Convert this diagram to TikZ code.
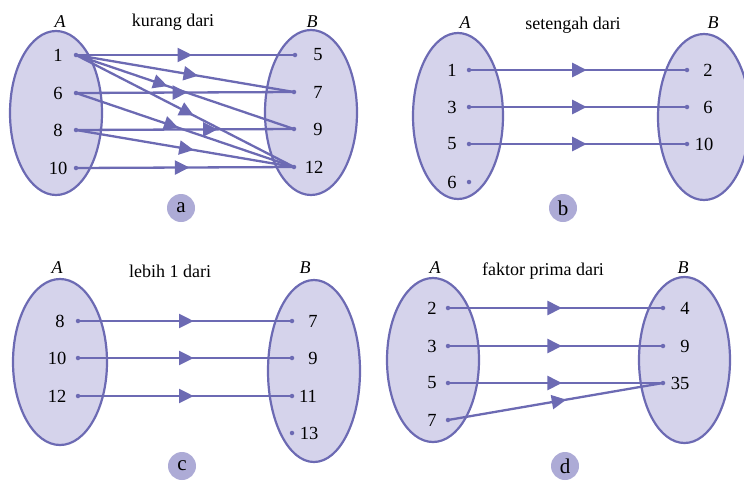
\documentclass[tikz,border=0pt]{standalone}
\usepackage{fontspec}
\setmainfont{Liberation Serif}
\usetikzlibrary{arrows.meta,decorations.markings}
\definecolor{lc}{HTML}{6C6AB3}
\definecolor{ef}{HTML}{D5D3EB}
\definecolor{cf}{HTML}{ADABD6}
\tikzset{
  setell/.style={draw=lc, line width=2.2pt, fill=ef},
  dotn/.style={circle, fill=lc, inner sep=0pt, minimum size=4.5pt},
  lbl/.style={inner sep=0pt, font=\fontsize{18.5}{20}\selectfont},
  ttl/.style={inner sep=0pt, font=\fontsize{18}{20}\selectfont},
  setname/.style={inner sep=0pt, font=\fontsize{18}{20}\selectfont\itshape},
  tag/.style={circle, fill=cf, minimum size=28pt, inner sep=0pt, font=\fontsize{21}{22}\selectfont},
  rel/.style={draw=lc, line width=2.3pt, postaction={decorate},
    decoration={markings, mark=at position #1 with {\arrow{Triangle[length=14.5pt,width=14pt]}}}},
  rel/.default=0.54
}
\begin{document}
\begin{tikzpicture}[x=1pt,y=-1pt]
\useasboundingbox (0,0) rectangle (744,480);
\clip (0,0) rectangle (744,480);
% ---------------- panel a
\draw[setell] (56,113) ellipse [x radius=46, y radius=82];
\draw[setell] (311,112.5) ellipse [x radius=46, y radius=82.5];
\node[setname] (aA) at (60,22) {A};
\node[setname] (aB) at (312,22) {B};
\node[ttl] (at) at (173,22) {kurang dari};
\node[tag] (ta) at (181,208) {a};
\node[dotn] (a1) at (76,55) {};
\node[dotn] (a6) at (76,93) {};
\node[dotn] (a8) at (76,130) {};
\node[dotn] (a10) at (76,168) {};
\node[dotn] (b5) at (295,55) {};
\node[dotn] (b7) at (294,92) {};
\node[dotn] (b9) at (294,129) {};
\node[dotn] (b12) at (294,167) {};
\node[lbl] at (58,55) {1};
\node[lbl] at (58,93) {6};
\node[lbl] at (58,130) {8};
\node[lbl] at (58,168) {10};
\node[lbl] at (318,55) {5};
\node[lbl] at (318,92) {7};
\node[lbl] at (318,129) {9};
\node[lbl] at (314,167) {12};
\draw[rel=0.53] (a1.center) -- (b5.center);
\draw[rel=0.56] (a1.center) -- (b7.center);
\draw[rel=0.42] (a1.center) -- (b9.center);
\draw[rel=0.54] (a1.center) -- (b12.center);
\draw[rel=0.51] (a6.center) -- (b7.center);
\draw[rel=0.47] (a6.center) -- (b12.center);
\draw[rel=0.65] (a8.center) -- (b9.center);
\draw[rel=0.54] (a8.center) -- (b12.center);
\draw[rel=0.52] (a10.center) -- (b12.center);
% ---------------- panel b
\draw[setell] (458,116) ellipse [x radius=45, y radius=83];
\draw[setell] (704,117) ellipse [x radius=46, y radius=83];
\node[setname] (bA) at (465,23) {A};
\node[setname] (bB) at (713,23) {B};
\node[ttl] (bt) at (573,25) {setengah dari};
\node[tag] (tb) at (563,208) {b};
\node[dotn] (c1) at (469,70) {};
\node[dotn] (c3) at (469,107) {};
\node[dotn] (c5) at (469,144) {};
\node[dotn] (c6) at (469,182) {};
\node[dotn] (d2) at (687,70) {};
\node[dotn] (d6) at (687,107) {};
\node[dotn] (d10) at (687,144) {};
\node[lbl] at (452,70) {1};
\node[lbl] at (452,107) {3};
\node[lbl] at (452,144) {5};
\node[lbl] at (452,182) {6};
\node[lbl] at (708,70) {2};
\node[lbl] at (708,107) {6};
\node[lbl] at (704,144) {10};
\draw[rel] (c1.center) -- (d2.center);
\draw[rel] (c3.center) -- (d6.center);
\draw[rel] (c5.center) -- (d10.center);
% ---------------- panel c
\draw[setell] (60,362) ellipse [x radius=47, y radius=83];
\draw[setell] (314,371) ellipse [x radius=46, y radius=91];
\node[setname] (cA) at (57,268) {A};
\node[setname] (cB) at (305,268) {B};
\node[ttl] (ct) at (170,271) {lebih 1 dari};
\node[tag] (tc) at (182,466) {c};
\node[dotn] (e8) at (78,321) {};
\node[dotn] (e10) at (78,358) {};
\node[dotn] (e12) at (78,396) {};
\node[dotn] (f7) at (292,321) {};
\node[dotn] (f9) at (292,358) {};
\node[dotn] (f11) at (292,396) {};
\node[dotn] (f13) at (292,433) {};
\node[lbl] at (60,321) {8};
\node[lbl] at (57,358) {10};
\node[lbl] at (57,396) {12};
\node[lbl] at (313,321) {7};
\node[lbl] at (313,358) {9};
\node[lbl] at (308,396) {11};
\node[lbl] at (309,433) {13};
\draw[rel] (e8.center) -- (f7.center);
\draw[rel] (e10.center) -- (f9.center);
\draw[rel] (e12.center) -- (f11.center);
% ---------------- panel d
\draw[setell] (433,360) ellipse [x radius=46, y radius=82];
\draw[setell] (684.5,360) ellipse [x radius=45.5, y radius=83];
\node[setname] (dA) at (435,268) {A};
\node[setname] (dB) at (683,268) {B};
\node[ttl] (dt) at (543,271) {faktor prima dari};
\node[tag] (td) at (565,466) {d};
\node[dotn] (g2) at (448,308) {};
\node[dotn] (g3) at (448,346) {};
\node[dotn] (g5) at (448,383) {};
\node[dotn] (g7) at (448,420) {};
\node[dotn] (h4) at (663,308) {};
\node[dotn] (h9) at (663,346) {};
\node[dotn] (h35) at (663,383) {};
\node[lbl] at (432,308) {2};
\node[lbl] at (432,346) {3};
\node[lbl] at (432,383) {5};
\node[lbl] at (432,420) {7};
\node[lbl] at (685,308) {4};
\node[lbl] at (685,346) {9};
\node[lbl] at (680,383) {35};
\draw[rel=0.53] (g2.center) -- (h4.center);
\draw[rel=0.53] (g3.center) -- (h9.center);
\draw[rel=0.53] (g5.center) -- (h35.center);
\draw[rel=0.55] (g7.center) -- (h35.center);
\end{tikzpicture}
\end{document}
